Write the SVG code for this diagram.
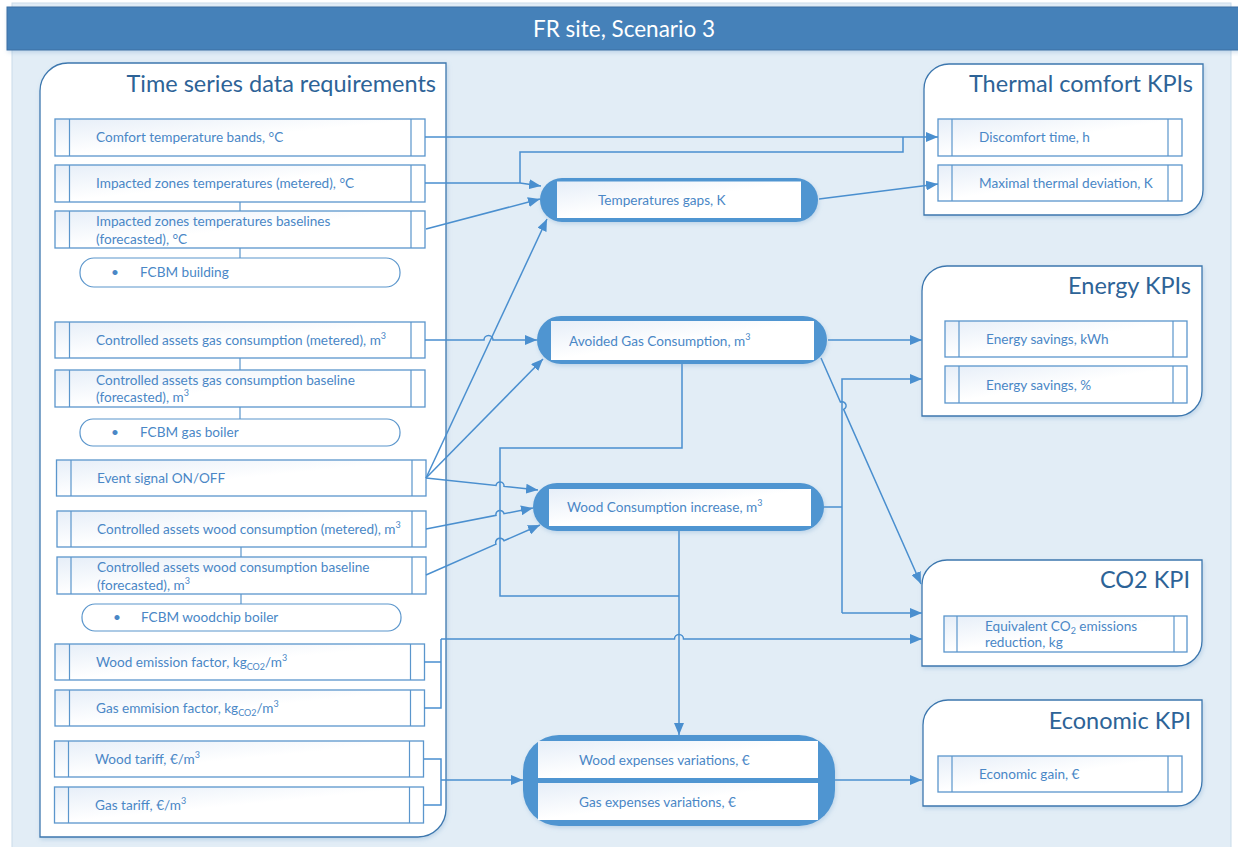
<svg xmlns="http://www.w3.org/2000/svg" width="1238" height="847" viewBox="0 0 1238 847">
<style>
text{font-family:Lato,"Open Sans","Liberation Sans",sans-serif;}
.ttl{font-size:23.5px;fill:#2d6397;text-anchor:end;}
.hdr{font-size:22.5px;fill:#ffffff;text-anchor:middle;}
.t{font-size:13.6px;fill:#4a87c6;}
.sup{font-size:9px;}
.cont{fill:#ffffff;stroke:#3c77ae;stroke-width:1.3;filter:url(#sh);}
.box{fill:url(#bg);stroke:#5b96cc;stroke-width:1.3;}
.vl{stroke:#5b96cc;stroke-width:1.2;fill:none;}
.pill{fill:#ffffff;stroke:#5b96cc;stroke-width:1.2;}
.node{fill:#4f95d1;filter:url(#sh);}
.inner{fill:url(#bg);}
.c{fill:none;stroke:#4a8fcf;stroke-width:1.5;}
.a{marker-end:url(#ar);}
</style>
<defs>
<linearGradient id="bg" x1="0" y1="0" x2="1" y2="1">
<stop offset="0" stop-color="#e6eef8"/>
<stop offset="0.5" stop-color="#ffffff"/>
<stop offset="1" stop-color="#ffffff"/>
</linearGradient>
<filter id="sh" x="-5%" y="-5%" width="115%" height="120%">
<feDropShadow dx="1" dy="2" stdDeviation="2" flood-color="#7aa6cf" flood-opacity="0.35"/>
</filter>
<marker id="ar" viewBox="0 0 12 10" refX="12" refY="5" markerWidth="12" markerHeight="10" markerUnits="userSpaceOnUse" orient="auto">
<path d="M0,0 L12,5 L0,10 Z" fill="#4a8fcf"/>
</marker>
</defs>

<rect x="0" y="0" width="1238" height="847" fill="#ffffff"/>
<rect x="12" y="3" width="1219" height="850" fill="#e2edf6" stroke="#c9dbea" stroke-width="1"/>
<g id="header">
<rect x="7" y="7" width="1235" height="43" fill="#4581b9" stroke="#3a6fa3" stroke-width="1" filter="url(#sh)"/>
<text class="hdr" x="624" y="37">FR site, Scenario 3</text>
</g>

<g id="time-series">
<path class="cont" d="M68,63 H446 V809 A28,28 0 0 1 418,837 H40 V91 A28,28 0 0 1 68,63 Z"/>
<text class="ttl" x="436" y="92">Time series data requirements</text>
</g>

<g id="links-left" class="vl">
<path d="M240,202 V211 M240,248 V258 M240,358 V370 M240,407 V419 M241,547 V557 M241,594 V604"/>
</g>

<g id="comfort-bands">
<rect class="box" x="55" y="119" width="370" height="37"/>
<path class="vl" d="M69.5,119 V156 M411,119 V156"/>
<text class="t" x="96" y="142">Comfort temperature bands, °C</text>
</g>
<g id="zones-metered">
<rect class="box" x="55" y="165" width="370" height="37"/>
<path class="vl" d="M69.5,165 V202 M411,165 V202"/>
<text class="t" x="96" y="188">Impacted zones temperatures (metered), °C</text>
</g>
<g id="zones-baseline">
<rect class="box" x="55" y="211" width="370" height="37"/>
<path class="vl" d="M69.5,211 V248 M411,211 V248"/>
<text class="t" x="96" y="226">Impacted zones temperatures baselines</text>
<text class="t" x="96" y="244">(forecasted), °C</text>
</g>
<g id="fcbm-building">
<rect class="pill" x="80" y="258" width="320" height="29" rx="14"/>
<text class="t" x="111" y="277">•</text>
<text class="t" x="140" y="277">FCBM building</text>
</g>
<g id="gas-metered">
<rect class="box" x="55" y="322" width="370" height="36"/>
<path class="vl" d="M69.5,322 V358 M411,322 V358"/>
<text class="t" x="96" y="345">Controlled assets gas consumption (metered), m<tspan class="sup" dy="-6">3</tspan></text>
</g>
<g id="gas-baseline">
<rect class="box" x="55" y="370" width="370" height="37"/>
<path class="vl" d="M69.5,370 V407 M411,370 V407"/>
<text class="t" x="96" y="385">Controlled assets gas consumption baseline</text>
<text class="t" x="96" y="402">(forecasted), m<tspan class="sup" dy="-6">3</tspan></text>
</g>
<g id="fcbm-gas">
<rect class="pill" x="80" y="419" width="320" height="27" rx="13"/>
<text class="t" x="111" y="437">•</text>
<text class="t" x="140" y="437">FCBM gas boiler</text>
</g>
<g id="event-signal">
<rect class="box" x="56.5" y="460" width="369.5" height="36"/>
<path class="vl" d="M71,460 V496 M412,460 V496"/>
<text class="t" x="97" y="483">Event signal ON/OFF</text>
</g>
<g id="wood-metered">
<rect class="box" x="57" y="511" width="369" height="36"/>
<path class="vl" d="M71,511 V547 M412,511 V547"/>
<text class="t" x="97" y="534">Controlled assets wood consumption (metered), m<tspan class="sup" dy="-6">3</tspan></text>
</g>
<g id="wood-baseline">
<rect class="box" x="57" y="557" width="369" height="37"/>
<path class="vl" d="M71,557 V594 M412,557 V594"/>
<text class="t" x="97" y="572">Controlled assets wood consumption baseline</text>
<text class="t" x="97" y="590">(forecasted), m<tspan class="sup" dy="-6">3</tspan></text>
</g>
<g id="fcbm-wood">
<rect class="pill" x="82" y="604" width="319" height="27" rx="13"/>
<text class="t" x="113" y="622">•</text>
<text class="t" x="141" y="622">FCBM woodchip boiler</text>
</g>
<g id="wood-ef">
<rect class="box" x="55" y="644" width="369.5" height="36"/>
<path class="vl" d="M69.5,644 V680 M410.5,644 V680"/>
<text class="t" x="96" y="667">Wood emission factor, kg<tspan class="sup" dy="3">CO2</tspan><tspan dy="-3">/m</tspan><tspan class="sup" dy="-6">3</tspan></text>
</g>
<g id="gas-ef">
<rect class="box" x="55" y="690" width="369.5" height="36"/>
<path class="vl" d="M69.5,690 V726 M410.5,690 V726"/>
<text class="t" x="96" y="713">Gas emmision factor, kg<tspan class="sup" dy="3">CO2</tspan><tspan dy="-3">/m</tspan><tspan class="sup" dy="-6">3</tspan></text>
</g>
<g id="wood-tariff">
<rect class="box" x="54.5" y="741" width="369" height="36"/>
<path class="vl" d="M68.5,741 V777 M409.5,741 V777"/>
<text class="t" x="95" y="764">Wood tariff, €/m<tspan class="sup" dy="-6">3</tspan></text>
</g>
<g id="gas-tariff">
<rect class="box" x="54.5" y="787" width="369" height="36"/>
<path class="vl" d="M68.5,787 V823 M409.5,787 V823"/>
<text class="t" x="95" y="810">Gas tariff, €/m<tspan class="sup" dy="-6">3</tspan></text>
</g>

<g id="thermal-kpis">
<path class="cont" d="M949,64 H1203 V190 A25,25 0 0 1 1178,215 H924 V89 A25,25 0 0 1 949,64 Z"/>
<text class="ttl" x="1193" y="92">Thermal comfort KPIs</text>
</g>
<g id="discomfort-time">
<rect class="box" x="938" y="119" width="244" height="37"/>
<path class="vl" d="M952,119 V156 M1168,119 V156"/>
<text class="t" x="979" y="142">Discomfort time, h</text>
</g>
<g id="max-deviation">
<rect class="box" x="938" y="165" width="244" height="36"/>
<path class="vl" d="M952,165 V201 M1168,165 V201"/>
<text class="t" x="979" y="188">Maximal thermal deviation, K</text>
</g>

<g id="energy-kpis">
<path class="cont" d="M947,266 H1202 V391 A25,25 0 0 1 1177,416 H922 V291 A25,25 0 0 1 947,266 Z"/>
<text class="ttl" x="1191" y="294">Energy KPIs</text>
</g>
<g id="energy-kwh">
<rect class="box" x="945" y="321" width="242" height="36"/>
<path class="vl" d="M959,321 V357 M1173,321 V357"/>
<text class="t" x="986" y="344">Energy savings, kWh</text>
</g>
<g id="energy-pct">
<rect class="box" x="945" y="366" width="242" height="37"/>
<path class="vl" d="M959,366 V403 M1173,366 V403"/>
<text class="t" x="986" y="390">Energy savings, %</text>
</g>

<g id="co2-kpi">
<path class="cont" d="M947,560 H1202 V641 A25,25 0 0 1 1177,666 H922 V585 A25,25 0 0 1 947,560 Z"/>
<text class="ttl" x="1190" y="588">CO2 KPI</text>
</g>
<g id="co2-reduction">
<rect class="box" x="944" y="616" width="243" height="36"/>
<path class="vl" d="M957,616 V652 M1174,616 V652"/>
<text class="t" x="985" y="631">Equivalent CO<tspan class="sup" dy="3">2</tspan><tspan dy="-3"> emissions</tspan></text>
<text class="t" x="985" y="647">reduction, kg</text>
</g>

<g id="economic-kpi">
<path class="cont" d="M948,700 H1202 V781 A25,25 0 0 1 1177,806 H923 V725 A25,25 0 0 1 948,700 Z"/>
<text class="ttl" x="1191" y="729">Economic KPI</text>
</g>
<g id="economic-gain">
<rect class="box" x="938" y="756" width="244" height="36"/>
<path class="vl" d="M952,756 V792 M1168,756 V792"/>
<text class="t" x="979" y="779">Economic gain, €</text>
</g>

<g id="connectors">
<path class="c a" d="M425,137 H938"/>
<path class="c" d="M520,183 V152 H903 V137"/>
<path class="c a" d="M425,183 H520 L541,186"/>
<path class="c a" d="M426,229 L540,199"/>
<path class="c a" d="M426,478 L547,219"/>
<path class="c a" d="M426,478 L543,359"/>
<path class="c a" d="M426,478 L496,485.5 A4,4 0 0 1 504,486.4 L538,490"/>
<path class="c a" d="M425,340 H484 A4.5,4.5 0 0 1 493,340 H537"/>
<path class="c a" d="M426,529 L496,515.3 A4,4 0 0 1 504,513.7 L533,508"/>
<path class="c a" d="M426,575 L496,544.2 A4.3,4.3 0 0 1 504,540.8 L540,525"/>
<path class="c a" d="M819,199 L938,184"/>
<path class="c a" d="M828,340 H922"/>
<path class="c a" d="M821,358 L840.4,402 A4,4 0 0 1 843.6,409.4 L921,584"/>
<path class="c" d="M824,507 H842"/>
<path class="c a" d="M842,613 V379 H922"/>
<path class="c a" d="M842,613 H922"/>
<path class="c" d="M682,364 V448 H500 V596 H679"/>
<path class="c a" d="M679,531 V735"/>
<path class="c" d="M424,662 H441 M424,708 H441 V639"/>
<path class="c a" d="M441,639 H674.5 A4.5,4.5 0 0 1 683.5,639 H922"/>
<path class="c" d="M424,759 H441 V805 H424"/>
<path class="c a" d="M441,780 H523"/>
<path class="c a" d="M835,780 H922"/>
</g>

<g id="temperature-gaps">
<rect class="node" x="540" y="178" width="278" height="44" rx="22"/>
<rect class="inner" x="557" y="181.5" width="244" height="36.5"/>
<text class="t" x="598" y="205">Temperatures gaps, K</text>
</g>
<g id="avoided-gas">
<rect class="node" x="537" y="316" width="290" height="48" rx="24"/>
<rect class="inner" x="551" y="321" width="263" height="39"/>
<text class="t" x="569" y="346">Avoided Gas Consumption, m<tspan class="sup" dy="-6">3</tspan></text>
</g>
<g id="wood-increase">
<rect class="node" x="533" y="483" width="291" height="48" rx="24"/>
<rect class="inner" x="549" y="489" width="262" height="37"/>
<text class="t" x="567" y="512">Wood Consumption increase, m<tspan class="sup" dy="-6">3</tspan></text>
</g>
<g id="expenses">
<rect class="node" x="523" y="735" width="312" height="91" rx="36"/>
<rect class="inner" x="538" y="741" width="280" height="37"/>
<rect class="inner" x="538" y="783" width="280" height="37"/>
<text class="t" x="579" y="765">Wood expenses variations, €</text>
<text class="t" x="579" y="807">Gas expenses variations, €</text>
</g>
</svg>
